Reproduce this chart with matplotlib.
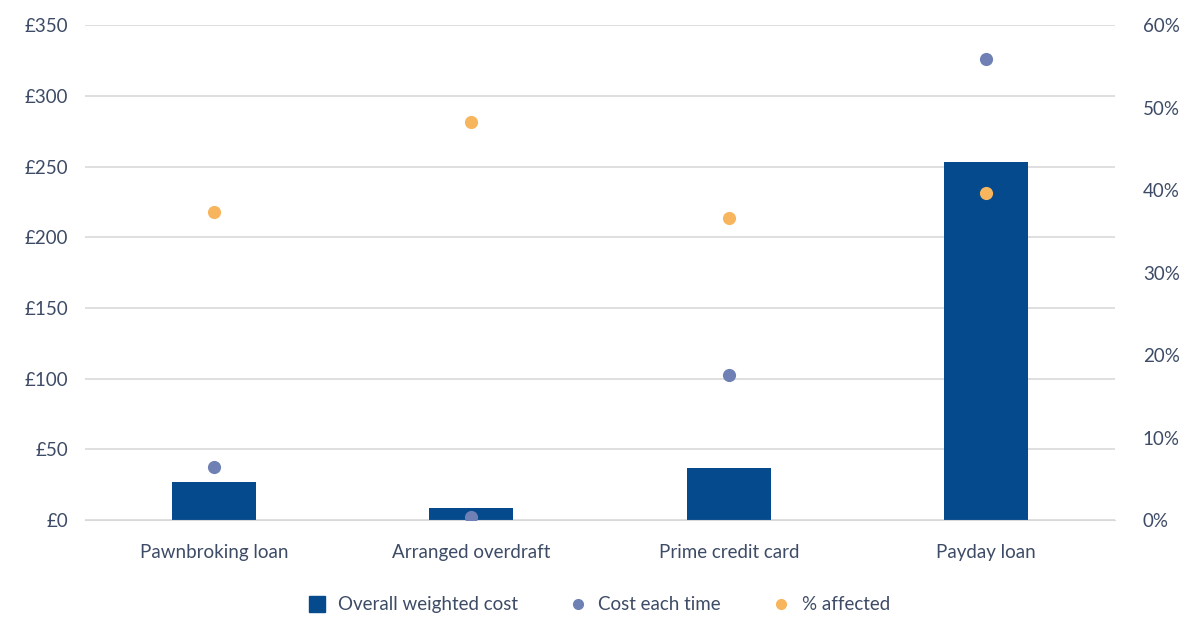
import matplotlib.pyplot as plt
from matplotlib.ticker import FuncFormatter, PercentFormatter
from matplotlib.lines import Line2D

categories = ["Pawnbroking loan", "Arranged overdraft", "Prime credit card", "Payday loan"]
overall_weighted_cost = [27, 8.5, 37, 253.5]
cost_each_time = [37.5, 2.3, 102.5, 326]
pct_affected = [37.4, 48.3, 36.6, 39.7]

bar_col = "#054a8c"
cost_col = "#6f80b5"
aff_col = "#f7b55e"
txt_col = "#3d4b66"

plt.rcParams["font.family"] = ["Lato", "DejaVu Sans"]

fig = plt.figure(figsize=(11.88, 6.17), dpi=100)
ax = fig.add_axes([0.0716, 0.157, 0.867, 0.802])
ax2 = ax.twinx()

x = range(len(categories))
ax.bar(x, overall_weighted_cost, width=0.325, color=bar_col, zorder=2)
ax.scatter(x, cost_each_time, s=90, color=cost_col, zorder=3, linewidths=0)
ax2.scatter(x, pct_affected, s=90, color=aff_col, zorder=3, linewidths=0)

ax.set_xlim(-0.5, 3.5)
ax.set_ylim(0, 350)
ax.set_yticks(range(0, 351, 50))
ax.yaxis.set_major_formatter(FuncFormatter(lambda v, p: f"£{v:.0f}"))
ax2.set_ylim(0, 60)
ax2.set_yticks(range(0, 61, 10))
ax2.yaxis.set_major_formatter(PercentFormatter(decimals=0))

ax.set_xticks(list(x))
ax.set_xticklabels(categories)
ax.grid(axis="y", color="#d9d9d9", linewidth=1.2, zorder=0)
ax.set_axisbelow(True)

for a in (ax, ax2):
    for s in a.spines.values():
        s.set_visible(False)
    a.tick_params(length=0, labelsize=13.5, colors=txt_col)
ax.tick_params(axis="y", pad=12)
ax.tick_params(axis="x", pad=17)
ax2.tick_params(axis="y", pad=20)
ax.spines["bottom"].set_visible(True)
ax.spines["bottom"].set_color("#d9d9d9")

handles = [
    Line2D([], [], marker="s", linestyle="", color=bar_col, markersize=11),
    Line2D([], [], marker="o", linestyle="", color=cost_col, markersize=7),
    Line2D([], [], marker="o", linestyle="", color=aff_col, markersize=7),
]
fig.legend(handles, ["Overall weighted cost", "Cost each time", "% affected"],
           loc="center", bbox_to_anchor=(0.5, 0.02), ncol=3, frameon=False,
           fontsize=13.5, labelcolor=txt_col, handletextpad=0.1, columnspacing=2.2)

fig.savefig("out.png", dpi=100)
